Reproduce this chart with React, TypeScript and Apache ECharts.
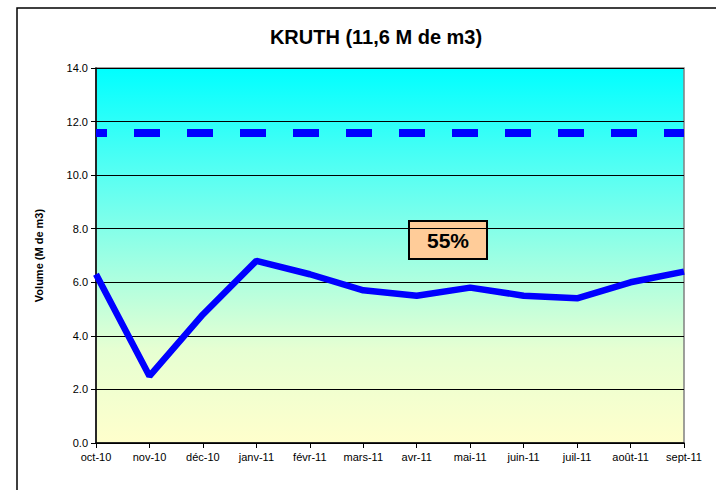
import React, { useEffect, useRef } from "react";
import * as echarts from "echarts";

const titleText = "KRUTH (11,6 M de m3)";
const yAxisName = "Volume (M de m3)";
const months = ["oct-10", "nov-10", "déc-10", "janv-11", "févr-11", "mars-11", "avr-11", "mai-11", "juin-11", "juil-11", "août-11", "sept-11"];
const volumes = [6.3, 2.5, 4.8, 6.8, 6.3, 5.7, 5.5, 5.8, 5.5, 5.4, 6.0, 6.4];
const capacity = 11.6;
const fillLabel = "55%";

export default function App() {
  const ref = useRef<HTMLDivElement>(null);
  useEffect(() => {
    if (!ref.current) return;
    const chart = echarts.init(ref.current, null, { renderer: "svg" });
    chart.setOption({
      animation: false,
      backgroundColor: "#ffffff",
      textStyle: { fontFamily: "Liberation Sans, Arial, sans-serif" },
      title: {
        text: titleText,
        left: 371,
        top: 22,
        textAlign: "center",
        textStyle: { fontSize: 20, fontWeight: "bold", color: "#000", fontFamily: "Liberation Sans, Arial, sans-serif" },
      },
      grid: {
        left: 96,
        right: 32,
        top: 68,
        bottom: 47,
        show: true,
        borderColor: "#808080",
        borderWidth: 1.5,
        backgroundColor: {
          type: "linear",
          x: 0, y: 0, x2: 0, y2: 1,
          colorStops: [
            { offset: 0, color: "#00FFFF" },
            { offset: 0.33, color: "#66FFF0" },
            { offset: 0.75, color: "#E6FFD2" },
            { offset: 1, color: "#FFFFCC" },
          ],
        },
      },
      xAxis: {
        type: "category",
        data: months,
        boundaryGap: false,
        axisLine: { lineStyle: { color: "#000", width: 1.5 } },
        axisTick: { show: true, interval: 0, length: 5, lineStyle: { color: "#000" } },
        axisLabel: { interval: 0, color: "#000", fontSize: 11, margin: 8 },
        splitLine: { show: false },
      },
      yAxis: {
        type: "value",
        min: 0,
        max: 14,
        interval: 2,
        name: yAxisName,
        nameLocation: "middle",
        nameGap: 52,
        nameTextStyle: { fontSize: 11, fontWeight: "bold", color: "#000" },
        axisLine: { show: true, lineStyle: { color: "#000", width: 1.5 } },
        axisTick: { show: true, length: 5, lineStyle: { color: "#000" } },
        axisLabel: { color: "#000", fontSize: 11, formatter: (v: number) => v.toFixed(1) },
        splitLine: { show: true, lineStyle: { color: "#000", width: 1 } },
      },
      series: [
        {
          type: "line",
          data: volumes,
          symbol: "none",
          lineStyle: { color: "#0000FF", width: 6.5 },
          z: 3,
          markLine: {
            silent: true,
            symbol: "none",
            label: { show: false },
            lineStyle: { color: "#0000FF", width: 8, type: [26, 27], dashOffset: 15 },
            data: [{ yAxis: capacity }],
          },
        },
      ],
      graphic: [
        {
          type: "rect",
          shape: { x: 17, y: 8, width: 800, height: 600 },
          style: { fill: "none", stroke: "#000", lineWidth: 1.5 },
          silent: true,
          z: 100,
        },
        {
          type: "group",
          left: 408,
          top: 220,
          z: 100,
          children: [
            {
              type: "rect",
              shape: { x: 0, y: 0, width: 78, height: 38 },
              style: { fill: "#FFCC99", stroke: "#000", lineWidth: 2 },
            },
            {
              type: "text",
              x: 39,
              y: 19,
              style: {
                text: fillLabel,
                fontSize: 21,
                fontWeight: "bold",
                fill: "#000",
                align: "center",
                verticalAlign: "middle",
                fontFamily: "Liberation Sans, Arial, sans-serif",
              },
            },
          ],
        },
      ],
    });
    return () => chart.dispose();
  }, []);
  return <div ref={ref} style={{ position: "fixed", left: 0, top: 0, width: 716, height: 490 }} />;
}
